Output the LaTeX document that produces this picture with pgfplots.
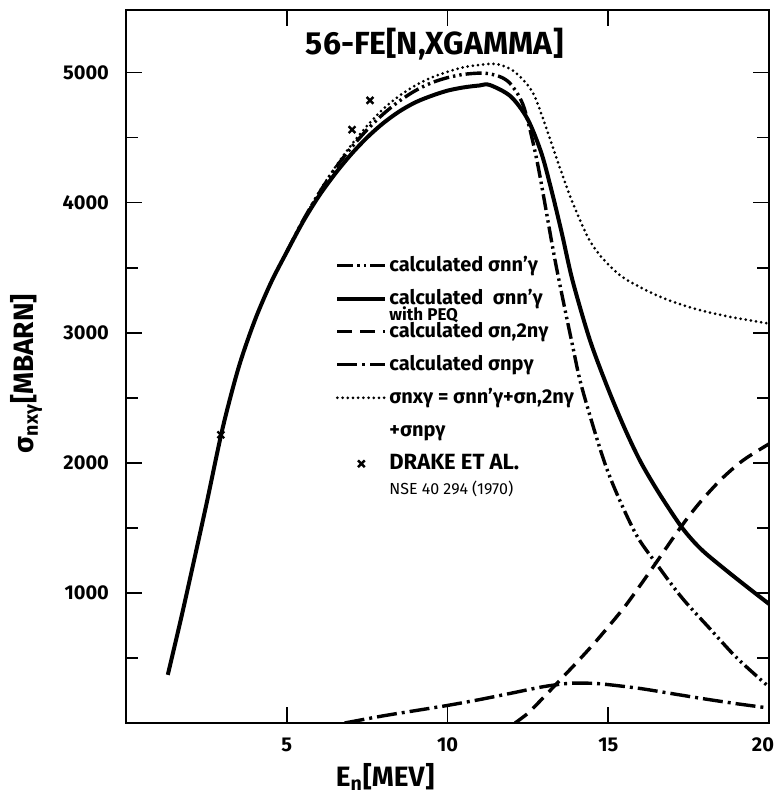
\documentclass[border=0pt]{standalone}
\usepackage{pgfplots}
\pgfplotsset{compat=1.18}
\usepackage{fontspec}
\setmainfont{Fira Sans}

% second line of a legend entry, set below the first without taking room
\newcommand{\below}[2]{\rlap{\smash{\raisebox{-#1}{#2}}}}
% legend image: a single mark in the middle of the sample
\pgfplotsset{mark legend/.style={legend image code/.code={\draw[##1] plot coordinates {(12pt,3pt)};}}}

\begin{document}
\begin{tikzpicture}
\begin{axis}[
  scale only axis, width=321.5pt, height=356.5pt,
  xmin=0, xmax=20, ymin=0, ymax=5480,
  xtick={5,10,15,20},
  xticklabels={5,10,15,{\kern-6pt 20}},
  ytick={1000,2000,3000,4000,5000},
  minor ytick={500,1500,2500,3500,4500},
  tick align=inside, xtick pos=both, ytick pos=both,
  xticklabel pos=left, yticklabel pos=left,
  major tick length=8pt, minor tick length=6pt,
  axis line style={line width=1.1pt},
  every tick/.style={black, line width=0.9pt},
  /pgf/number format/assume math mode=true,
  /pgf/number format/1000 sep={},
  ticklabel style={font=\bfseries\fontsize{10}{12}\selectfont},
  yticklabel style={xshift=-5pt},
  xticklabel style={yshift=-4pt},
  xlabel={E\textsubscript{n}[MEV]},
  ylabel={σ\textsubscript{nxγ}[MBARN]},
  label style={font=\bfseries\fontsize{14}{16}\selectfont},
  x label style={at={(axis description cs:0.403,0)}, anchor=center, yshift=-27pt},
  y label style={at={(axis description cs:-0.155,0.49)}, anchor=center},
  legend style={at={(axis cs:6.5,3640)}, anchor=north west, draw=none, fill=none,
    row sep=0pt, inner sep=0pt, font=\bfseries\fontsize{10}{12}\selectfont,
    nodes={inner sep=0pt, text height=11pt, text depth=5.5pt, anchor=base west},
    /tikz/every odd column/.append style={column sep=1pt}},
  legend image code/.code={\draw[#1] (0pt,3pt) -- (24pt,3pt);},
  every axis plot/.append style={smooth, tension=0.5, black},
]

% calculated sigma nn'gamma
\addplot[line width=1.7pt, dash pattern=on 8pt off 2pt on 1.2pt off 2pt on 1.2pt off 2pt] coordinates {
(5.0,3620) (5.5,3860) (6,4070) (6.5,4260) (7,4420) (7.5,4560) (8,4680) (8.5,4780)
(9,4860) (9.5,4920) (10,4960) (10.5,4985) (11,4995) (11.3,4990) (11.7,4960)
(12.0,4900) (12.38,4730) (12.8,4300) (13.35,3550) (13.89,2900) (14.2,2560)
(14.96,1950) (15.82,1470) (16.51,1220) (17.3,960) (18.18,720) (19,500) (20,277)};
\addlegendentry{calculated σnn'γ}

% calculated sigma nn'gamma with PEQ
\addplot[line width=2pt] coordinates {
(1.3,370) (1.7,790) (2,1120) (2.5,1680) (3,2260) (3.5,2730) (4,3090) (4.5,3380)
(5,3620) (5.5,3850) (6,4050) (6.5,4220) (7,4370) (7.5,4500) (8,4610) (8.5,4700)
(9,4770) (9.5,4820) (10,4860) (10.5,4885) (11,4900) (11.31,4904) (11.96,4817)
(12.49,4642) (12.92,4380) (13.24,4088) (13.56,3760) (13.89,3400) (14.42,2950)
(14.96,2590) (15.5,2270) (16.0,2010) (16.57,1770) (17.21,1530) (17.6,1410)
(18.0,1310) (18.71,1165) (19.4,1030) (20,915)};
\addlegendentry{\below{8pt}{\fontsize{8.5}{9}\selectfont with PEQ}calculated\ \ σnn'γ}

% calculated sigma n,2n gamma
\addplot[line width=1.7pt, dash pattern=on 7.5pt off 4pt] coordinates {
(12.1,0) (12.5,75) (13,200) (13.5,330) (14,460) (14.5,595) (14.85,695) (15.5,890)
(16,1060) (16.51,1240) (17.21,1490) (17.8,1680) (18.5,1870) (19.2,2020) (20,2145)};
\addlegendentry{calculated σn,2nγ}

% calculated sigma np gamma
\addplot[line width=1.7pt, dash pattern=on 10pt off 2.5pt on 1.5pt off 2.5pt] coordinates {
(6.8,0) (8,55) (9,95) (10,135) (11,180) (12,230) (13,280) (13.8,305) (14.5,305)
(15,295) (16,265) (17,225) (18,185) (19,148) (20,115)};
\addlegendentry{calculated σnpγ}

% total sigma nx gamma
\addplot[line width=1.5pt, line cap=round, dash pattern=on 0pt off 2.6pt] coordinates {
(5.5,3860) (6,4080) (6.5,4270) (7,4440) (7.5,4590) (8,4720) (8.5,4820) (9,4900)
(9.5,4960) (10,5005) (10.5,5040) (11,5058) (11.52,5065) (12.0,5020) (12.4,4930)
(12.71,4817) (13.14,4525) (13.46,4292) (13.89,4000) (14.42,3709) (14.9,3550)
(15.5,3418) (16.57,3280) (17.6,3190) (18.71,3125) (20,3070)};
\addlegendentry{σnxγ = σnn'γ+σn,2nγ}
\addlegendimage{empty legend}
\addlegendentry{+σnpγ}

% measured points
\addplot[only marks, mark=x, mark size=2.4pt, line width=1.2pt, mark legend] coordinates {
(2.95,2215) (7.03,4560) (7.59,4785)};
\addlegendentry{\below{12.5pt}{\mdseries\fontsize{8}{9}\selectfont NSE 40 294 (1970)}\fontsize{11}{12}\selectfont DRAKE ET AL.}

\node[font=\bfseries\fontsize{16}{19}\selectfont] at (axis cs:9.6,5215) {56-FE[N,XGAMMA]};
\end{axis}
\pgfresetboundingbox
\path ([xshift=-63pt,yshift=-36pt]current axis.south west)
  rectangle ([xshift=4pt,yshift=5pt]current axis.north east);
\end{tikzpicture}
\end{document}
